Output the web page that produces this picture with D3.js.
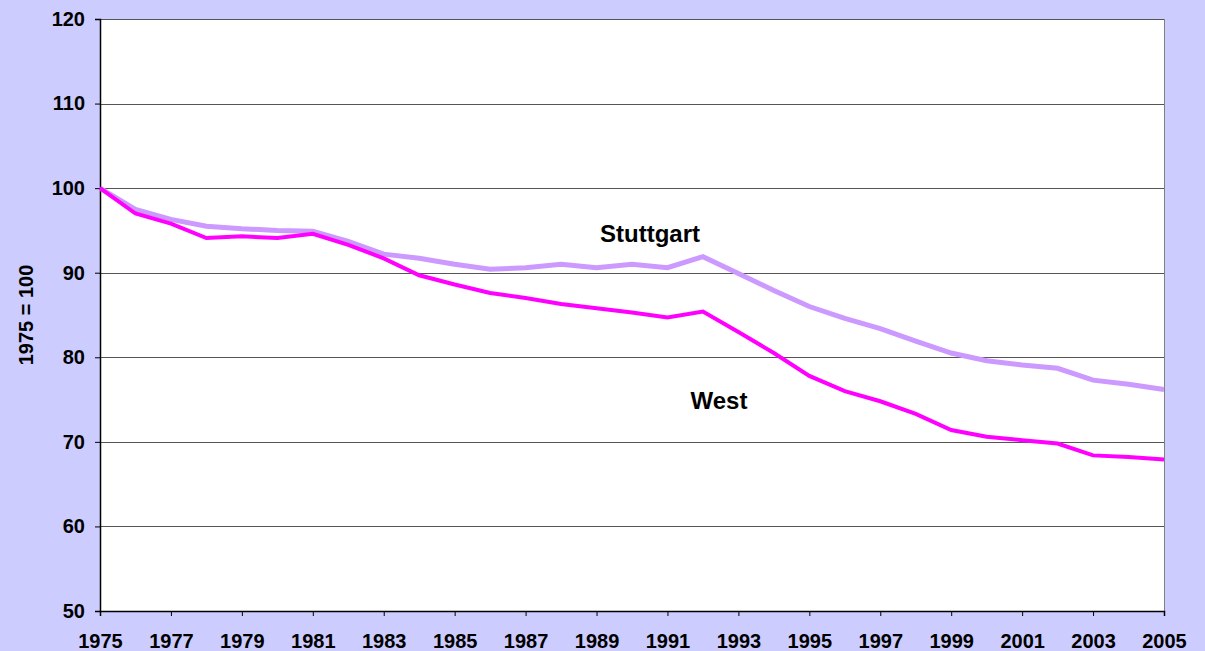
<!DOCTYPE html>
<html>
<head>
<script src="https://d3js.org/d3.v7.min.js"></script>
<style>
  body { margin: 0; background: #ccccff; }
  svg text { font-family: "Liberation Sans", Arial, sans-serif; font-weight: bold; fill: #000; }
</style>
</head>
<body>
<div id="chart"></div>
<script>
const years = d3.range(1975, 2006)
const stuttgart = [100, 97.5, 96.3, 95.5, 95.2, 95.0, 94.9, 93.7, 92.2, 91.7, 91.0,
                   90.4, 90.6, 91.0, 90.6, 91.0, 90.6, 91.9, 89.9, 87.9, 86.0,
                   84.6, 83.4, 81.9, 80.5, 79.6, 79.1, 78.7, 77.3, 76.8, 76.2]
const west = [100, 97.0, 95.8, 94.1, 94.3, 94.1, 94.6, 93.3, 91.7, 89.7, 88.6,
              87.6, 87.0, 86.3, 85.8, 85.3, 84.7, 85.4, 83.0, 80.5, 77.8,
              76.0, 74.8, 73.3, 71.4, 70.6, 70.2, 69.8, 68.4, 68.2, 67.9]
const yTicks = [50, 60, 70, 80, 90, 100, 110, 120]
const xTicks = d3.range(1975, 2006, 2)

const w = 1205
const h = 651
const mLeft = 100, mRight = 1164, mTop = 19, mBottom = 611

const svg = d3.select('#chart')
    .append('svg')
    .attr('width', w)
    .attr('height', h)

svg.append('rect')
    .attr('width', w).attr('height', h)
    .attr('fill', '#ccccff')

const x = d3.scaleLinear().domain([1975, 2005]).range([mLeft, mRight])
const y = d3.scaleLinear().domain([50, 120]).range([mBottom, mTop])

// plot area
svg.append('rect')
    .attr('x', mLeft + 0.5).attr('y', mTop + 0.5)
    .attr('width', mRight - mLeft).attr('height', mBottom - mTop)
    .attr('fill', '#fff')
    .attr('stroke', '#808080')
    .attr('stroke-width', 1)

// gridlines
svg.append('g')
    .selectAll('line')
    .data(yTicks.filter(d => d > 50))
    .enter()
    .append('line')
    .attr('x1', mLeft).attr('x2', mRight)
    .attr('y1', d => Math.round(y(d)) + 0.5)
    .attr('y2', d => Math.round(y(d)) + 0.5)
    .attr('stroke', '#555')
    .attr('stroke-width', 1)

// y axis
const yAxis = svg.append('g')
    .attr('transform', 'translate(' + mLeft + ',0)')
    .call(d3.axisLeft(y).tickValues(yTicks).tickSize(5).tickPadding(10))
yAxis.select('.domain').attr('stroke', '#000').attr('stroke-width', 1.5)
yAxis.selectAll('.tick line').attr('stroke', '#000')
yAxis.selectAll('text').style('font-size', '20px')

// x axis
const xAxis = svg.append('g')
    .attr('transform', 'translate(0,' + mBottom + ')')
    .call(d3.axisBottom(x).tickValues(xTicks).tickFormat(d3.format('d')).tickSize(5).tickPadding(18))
xAxis.select('.domain').attr('stroke', '#000').attr('stroke-width', 1.5)
xAxis.selectAll('.tick line').attr('stroke', '#000')
xAxis.selectAll('text').style('font-size', '20px')

svg.append('text')
    .attr('transform', 'translate(33,' + (mTop + mBottom) / 2 + ') rotate(-90)')
    .attr('text-anchor', 'middle')
    .style('font-size', '20px')
    .text('1975 = 100')

const line = d3.line()
    .x((d, i) => x(years[i]))
    .y(d => y(d))

svg.append('path')
    .datum(stuttgart)
    .attr('d', line)
    .attr('fill', 'none')
    .attr('stroke', '#cc99ff')
    .attr('stroke-width', 5)

svg.append('path')
    .datum(west)
    .attr('d', line)
    .attr('fill', 'none')
    .attr('stroke', '#ff00ff')
    .attr('stroke-width', 4)

svg.append('text')
    .attr('x', 650).attr('y', 242)
    .attr('text-anchor', 'middle')
    .style('font-size', '24px')
    .text('Stuttgart')

svg.append('text')
    .attr('x', 719).attr('y', 409)
    .attr('text-anchor', 'middle')
    .style('font-size', '24px')
    .text('West')
</script>
</body>
</html>
